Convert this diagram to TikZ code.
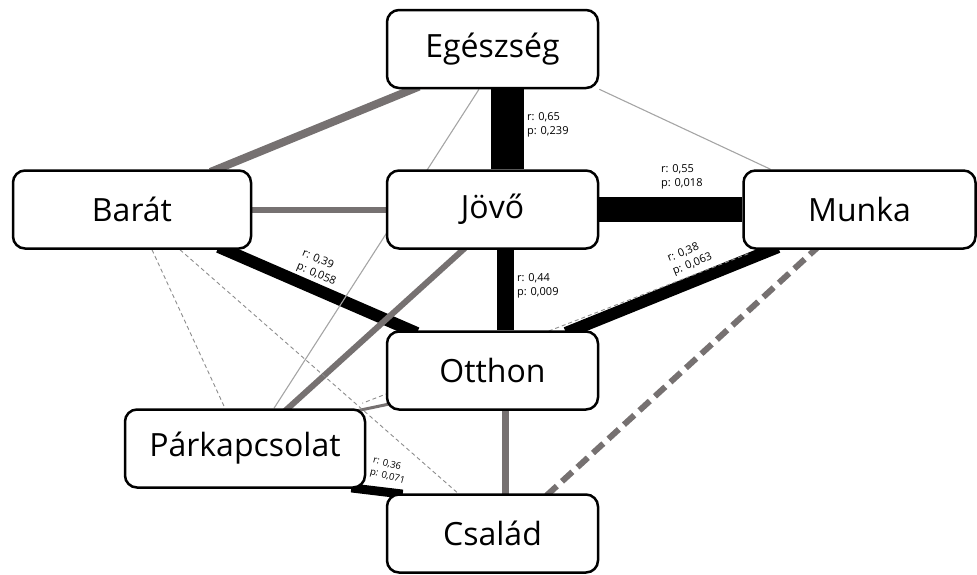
\documentclass[tikz,border=0pt]{standalone}
\usepackage{fontspec}
\setmainfont{Open Sans}
\usetikzlibrary{backgrounds}

\definecolor{edge_gray}{HTML}{767171}
\definecolor{thin_gray}{HTML}{A5A5A5}
\definecolor{dash_gray}{HTML}{8C8C8C}
\tikzstyle{topic_box}=[rectangle,
                         draw=black,
                         line width=2.5pt,
                         fill=white,
                         minimum height=78pt,
                         inner sep=0pt,
                         rounded corners=12pt,
                         font=\fontsize{32}{36}\selectfont, ]
\tikzstyle{corr_label}=[align=left,
                          inner sep=0pt,
                          font=\fontsize{11}{14}\selectfont, ]
\tikzstyle{into_box}=[shorten <=-7pt, shorten >=-7pt, ]
\tikzstyle{gray_edge}=[draw=edge_gray, into_box, ]
\tikzstyle{thin_edge}=[draw=thin_gray, line width=1.1pt, ]
\tikzstyle{dashed_edge}=[draw=dash_gray, line width=0.9pt, dash pattern=on 4pt off 3pt, ]

\begin{document}
\begin{tikzpicture}[x=1pt, y=1pt]
  \useasboundingbox (0,0) rectangle (977,-574);

  % Topics
  % -------------------------------------------------------------
  \foreach \n/\x/\y/\w/\t in {egeszseg/492.5/49/211/Egészség,
                              barat/132/209.5/238/Barát,
                              jovo/492.5/209.5/211/Jövő,
                              munka/859.5/209.5/232/Munka,
                              otthon/492.5/370.5/211/Otthon,
                              parkapcsolat/245/448.5/240/Párkapcsolat,
                              csalad/492.5/533.5/211/Család} {
      \node at (\x, -\y) (\n) [topic_box, minimum width=\w] {\t};
    }

  \begin{scope}[on background layer]
    % Strong correlations
    % -------------------------------------------------------------
    \draw[line width=33pt] ([xshift=14.5]egeszseg.south) -- ([xshift=14.5]jovo.north);
    \draw[line width=25pt] (jovo.east) -- (munka.west);
    \draw[line width=17pt] ([xshift=13]jovo.south) -- ([xshift=13]otthon.north);
    \draw[line width=12pt, into_box] ([xshift=93]barat.south) -- ([xshift=-82]otthon.north);
    \draw[line width=12pt, into_box] ([xshift=80]otthon.north) -- ([xshift=-88]munka.south);
    \draw[line width=9pt, into_box] ([xshift=-8]parkapcsolat.south east) -- ([xshift=10]csalad.north west);

    % Medium correlations
    % -------------------------------------------------------------
    \draw[gray_edge, line width=8pt] ([xshift=85]barat.north) -- ([xshift=-80]egeszseg.south);
    \draw[gray_edge, line width=6pt] (barat.east) -- (jovo.west);
    \draw[gray_edge, line width=6pt] ([xshift=43]parkapcsolat.north) -- ([xshift=-29.5]jovo.south);
    \draw[gray_edge, line width=7pt] ([xshift=12.5]otthon.south) -- ([xshift=12.5]csalad.north);
    \draw[gray_edge, line width=3pt] ([shift={(-2,-1)}]parkapcsolat.north east) -- ([yshift=6]otthon.south west);
    \draw[gray_edge, line width=6pt, dash pattern=on 14pt off 7pt] ([xshift=-44.5]munka.south) -- ([xshift=56.5]csalad.north);

    % Weak correlations
    % -------------------------------------------------------------
    \draw[thin_edge] ([xshift=-13.5]egeszseg.south) -- ([xshift=29]parkapcsolat.north);
    \draw[thin_edge] (egeszseg.south east) -- ([xshift=-89]munka.north);
    \draw[dashed_edge] ([xshift=20]barat.south) -- ([xshift=-20]parkapcsolat.north);
    \draw[dashed_edge] ([xshift=48]barat.south) -- ([xshift=-34.5]csalad.north);
    \draw[dashed_edge] ([shift={(6,-4)}]munka.south west) -- ([shift={(-4,5)}]parkapcsolat.north east);
  \end{scope}

  % Values
  % -------------------------------------------------------------
  \node at (527, -125) (val_egeszseg_jovo) [corr_label, anchor=west] {r: 0,65\\p: 0,239};
  \node at (661, -177) (val_jovo_munka) [corr_label, anchor=west] {r: 0,55\\p: 0,018};
  \node at (517, -286) (val_jovo_otthon) [corr_label, anchor=west] {r: 0,44\\p: 0,009};
  \node at (319, -268) (val_barat_otthon) [corr_label, rotate=-23] {r: 0,39\\p: 0,058};
  \node at (690, -258) (val_otthon_munka) [corr_label, rotate=22] {r: 0,38\\p: 0,063};
  \node at (389, -471) (val_par_csalad) [corr_label, rotate=-15, font=\fontsize{9.5}{12}\selectfont] {r: 0,36\\p: 0,071};
\end{tikzpicture}
\end{document}
